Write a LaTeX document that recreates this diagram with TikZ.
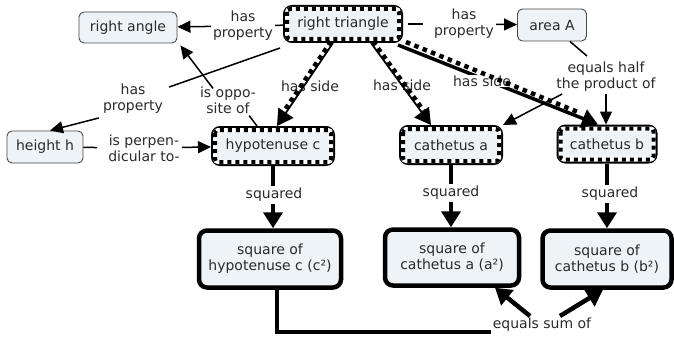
\documentclass[tikz,border=0pt]{standalone}
\usepackage{fontspec}
\setmainfont{DejaVu Sans}
\usetikzlibrary{arrows.meta,calc}
\definecolor{boxfill}{HTML}{EDF3F7}
\definecolor{ink}{HTML}{2A2A2A}
\begin{document}
\begin{tikzpicture}[x=1pt,y=-1pt,
  every node/.style={font=\fontsize{14}{16}\selectfont, text=ink},
  thinbox/.style={draw=ink!85, line width=0.9pt, fill=boxfill, rounded corners=5pt, inner sep=0pt},
  combbox/.style={draw=black, line width=4pt, fill=boxfill, rounded corners=7pt, inner sep=0pt},
  teeth/.style={draw=black, line width=4pt, dash pattern=on 4pt off 4pt, rounded corners=3pt,
    preaction={draw=white, line width=4pt}},
  sqbox/.style={draw=black, line width=4.5pt, fill=boxfill, rounded corners=8pt, inner sep=0pt, align=center},
  lbl/.style={align=center, inner sep=2pt},
  link/.style={draw=black, line width=1.5pt},
  arr/.style={-{Triangle[length=13pt,width=12pt]}},
  thicklink/.style={draw=black, line width=4.5pt},
  bigarr/.style={-{Triangle[length=16pt,width=19pt]}},
  comb/.style={draw=black, line width=1.8pt, -{Triangle[length=16pt,width=18pt]},
    postaction={draw=black, -, line width=4.5pt, dash pattern=on 4.5pt off 4pt,
      shorten >=16pt, transform canvas={shift={#1}}}},
  dashline/.style={draw=black, line width=4.5pt, dash pattern=on 4.5pt off 4.5pt}
]
\fill[white] (0,0) rectangle (674,337);
\useasboundingbox (0,0) rectangle (674,337);

% concepts
\node[thinbox, minimum width=98pt, minimum height=31pt] (rightangle) at (128,27.5) {right angle};
\node[combbox, minimum width=116pt, minimum height=34pt] (righttri) at (343,24) {right triangle};
\node[thinbox, minimum width=69pt, minimum height=32pt] (areaA) at (552,25) {area A};
\node[thinbox, minimum width=76pt, minimum height=32pt] (heighth) at (45,147) {height h};
\node[combbox, minimum width=120pt, minimum height=36pt] (hypc) at (273,146) {hypotenuse c};
\node[combbox, minimum width=100pt, minimum height=36pt] (catha) at (451,145) {cathetus a};
\node[combbox, minimum width=97pt, minimum height=35pt] (cathb) at (607,144) {cathetus b};
\node[sqbox, minimum width=142pt, minimum height=57pt] (sqc) at (270,259) {square of\\hypotenuse c (c²)};
\node[sqbox, minimum width=134pt, minimum height=56pt] (sqa) at (452,257.5) {square of\\cathetus a (a²)};
\node[sqbox, minimum width=129pt, minimum height=57pt] (sqb) at (607,259) {square of\\cathetus b (b²)};

% dashed inner band of the heavy frames
\foreach \n in {righttri,hypc,catha,cathb}
  \draw[teeth] ([shift={(4pt,-4pt)}]\n.north west) rectangle ([shift={(-4pt,4pt)}]\n.south east);

% linking phrases
\node[lbl] (hp1) at (243,26) {has\\property};
\node[lbl] (hp2) at (464,24) {has\\property};
\node[lbl] (hp3) at (133,99) {has\\property};
\node[lbl] (opp) at (228,100) {is oppo-\\site of};
\node[lbl] (perp) at (144,148) {is perpen-\\dicular to-};
\node[lbl] (eqhalf) at (606,77) {equals half\\the product of};
\node[lbl] (hs1) at (310,86) {has side};
\node[lbl] (hs2) at (402,85) {has side};
\node[lbl] (eqsum) at (542,325) {equals sum of};

% property links
\draw[link] (righttri) -- (hp1);
\draw[link,arr] (hp1) -- (rightangle);
\draw[link] ([xshift=5pt]righttri.east) -- ([xshift=-9pt]hp2.west);
\draw[link,arr] (hp2) -- (areaA);
\draw[link] ([shift={(-3pt,-5pt)}]righttri.south west) -- ([shift={(4pt,-5pt)}]hp3.north east);
\draw[link,arr] ([shift={(-2pt,-2pt)}]hp3.south west) -- ([xshift=5pt]heighth.north);
\draw[link] ([xshift=-16pt]hypc.north) -- ([xshift=-9pt]opp.south east);
\draw[link,arr] ([shift={(-15pt,-4pt)}]opp.north) -- ([shift={(3pt,-2pt)}]rightangle.south east);
\draw[link,shorten >=9pt] (heighth) -- (perp);
\draw[link,arr] (perp) -- (hypc);
\draw[link] ([xshift=-17pt]areaA.south east) -- ([shift={(-19pt,4pt)}]eqhalf.north);
\draw[link,arr] ([xshift=8pt]eqhalf.south west) -- (catha.north east);
\draw[link,arr] (eqhalf.south) -- (eqhalf.south |- cathb.north);

% sides of the triangle
\draw[comb={(-2,-1.5)}] ([xshift=-10pt]righttri.south) -- ([xshift=4pt]hypc.north);
\draw[comb={(2,-1.5)}] ([xshift=28pt]righttri.south) -- ([xshift=-20pt]catha.north);
\draw[thicklink,line width=3.5pt,bigarr] ([shift={(-5pt,-2pt)}]righttri.south east) -- ([xshift=-9pt]cathb.north);
\node[lbl, fill=white, inner sep=1pt] (hs3) at (482,81) {has side};
\draw[dashline] ([shift={(3pt,1pt)}]righttri.south east) -- ([shift={(-28pt,12pt)}]cathb.north);

% squares
\draw[thicklink,bigarr] (hypc.south) -- (hypc.south |- sqc.north);
\draw[thicklink,bigarr] (catha.south) -- (catha.south |- sqa.north);
\draw[thicklink,bigarr] (cathb.south) -- (cathb.south |- sqb.north);
\node[lbl, fill=white] (sq1) at (274,195) {squared};
\node[lbl, fill=white] (sq2) at (451,193) {squared};
\node[lbl, fill=white] (sq3) at (610,194) {squared};

% sum of squares
\draw[thicklink] ([xshift=7pt]sqc.south) |- ([yshift=-7pt]eqsum.west);
\draw[thicklink,bigarr] ([xshift=-12pt]eqsum.north) -- ([xshift=43pt]sqa.south);
\draw[thicklink,bigarr] ([xshift=18pt]eqsum.north) -- ([xshift=-4pt]sqb.south);
\end{tikzpicture}
\end{document}
